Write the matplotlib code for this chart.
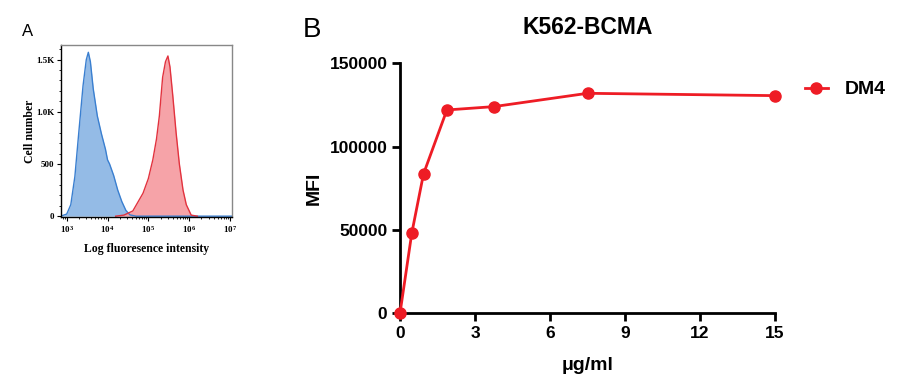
import numpy as np
import matplotlib as mpl
import matplotlib.pyplot as plt
from matplotlib import ticker

# panel A: flow histograms, log10(intensity) vs cell count
blue_log = [2.85, 3.0, 3.1, 3.2, 3.3, 3.4, 3.48, 3.53, 3.58, 3.65, 3.75,
            3.85, 3.95, 4.0, 4.05, 4.15, 4.25, 4.35, 4.45, 4.55, 4.7, 7.1]
blue_count = [0, 20, 110, 380, 820, 1250, 1500, 1570, 1480, 1220, 960,
              790, 640, 540, 500, 390, 250, 140, 55, 12, 0, 0]
red_log = [4.2, 4.4, 4.62, 4.87, 5.0, 5.11, 5.2, 5.27, 5.35, 5.42, 5.48,
           5.53, 5.6, 5.68, 5.76, 5.85, 5.93, 6.05, 6.2]
red_count = [0, 10, 50, 220, 360, 540, 740, 960, 1330, 1480, 1535,
             1430, 1150, 800, 500, 250, 110, 10, 0]

# panel B: MFI vs concentration
conc = [0, 0.47, 0.94, 1.875, 3.75, 7.5, 15]
mfi = [0, 48000, 83600, 122000, 124000, 132000, 130600]

mpl.rcParams.update({
    "font.family": "Liberation Sans",
    "axes.linewidth": 1,
})

fig = plt.figure(figsize=(9, 3.79), dpi=100)

# ---- panel A ----
ax_a = fig.add_axes([61 / 900, 1 - 217 / 379, 171 / 900, 172 / 379])
bx = 10 ** np.array(blue_log)
rx = 10 ** np.array(red_log)
ax_a.fill_between(bx, blue_count, color="#94bbe6", lw=0)
ax_a.plot(bx, blue_count, color="#3a7fd0", lw=1)
ax_a.fill_between(rx, red_count, color="#f6a3a8", lw=0)
ax_a.plot(rx, red_count, color="#e2323e", lw=1)
ax_a.set_xscale("log")
ax_a.set_xlim(10 ** 2.86, 10 ** 7.05)
ax_a.set_ylim(-8, 1640)
ax_a.set_xticks([1e3, 1e4, 1e5, 1e6, 1e7])
ax_a.xaxis.set_minor_locator(ticker.LogLocator(base=10, subs=np.arange(2, 10), numticks=20))
ax_a.xaxis.set_minor_formatter(ticker.NullFormatter())
ax_a.set_yticks([0, 500, 1000, 1500])
ax_a.set_yticklabels(["0", "500", "1.0K", "1.5K"])
ax_a.yaxis.set_minor_locator(ticker.MultipleLocator(100))
serif = {"family": "Liberation Serif", "weight": "bold"}
for lab in ax_a.get_xticklabels() + ax_a.get_yticklabels():
    lab.set_fontfamily("Liberation Serif")
    lab.set_fontweight("bold")
    lab.set_fontsize(6.5)
ax_a.tick_params(axis="both", which="major", length=3, width=0.8, pad=2)
ax_a.tick_params(axis="both", which="minor", length=1.5, width=0.6)
for side in ["top", "right"]:
    ax_a.spines[side].set_color("#888888")
ax_a.set_ylabel("Cell number", fontsize=8.5, **serif)
ax_a.yaxis.set_label_coords(-0.146, 0.5)
ax_a.set_xlabel("Log fluoresence intensity", fontsize=8.5, labelpad=6, **serif)
fig.text(28 / 900, 1 - 31 / 379, "A", fontsize=12, ha="center", va="center")

# ---- panel B ----
ax_b = fig.add_axes([400 / 900, 1 - 313.3 / 379, 375 / 900, 250 / 379])
ax_b.plot(conc, mfi, color="#ee1c25", lw=2, marker="o", ms=8,
          clip_on=False, zorder=3, label="DM4")
ax_b.set_xlim(0, 15)
ax_b.set_ylim(0, 150000)
ax_b.set_xticks([0, 3, 6, 9, 12, 15])
ax_b.set_yticks([0, 50000, 100000, 150000])
ax_b.spines["top"].set_visible(False)
ax_b.spines["right"].set_visible(False)
for side in ["left", "bottom"]:
    ax_b.spines[side].set_linewidth(2)
ax_b.tick_params(axis="both", length=6, width=2, labelsize=12.5, pad=3)
for lab in ax_b.get_xticklabels() + ax_b.get_yticklabels():
    lab.set_fontweight("bold")
ax_b.set_title("K562-BCMA", fontsize=16.5, fontweight="bold", pad=21)
ax_b.set_ylabel("MFI", fontsize=14, fontweight="bold", labelpad=5)
ax_b.set_xlabel("\u03bcg/ml", fontsize=14, fontweight="bold", labelpad=12)
ax_b.legend(loc="upper left", bbox_to_anchor=(1.032, 1.0), frameon=False,
            prop={"weight": "bold", "size": 14}, handlelength=1.2,
            handletextpad=0.85)
fig.text(312 / 900, 1 - 30 / 379, "B", fontsize=20, ha="center", va="center")

plt.savefig("out.png", dpi=100)
